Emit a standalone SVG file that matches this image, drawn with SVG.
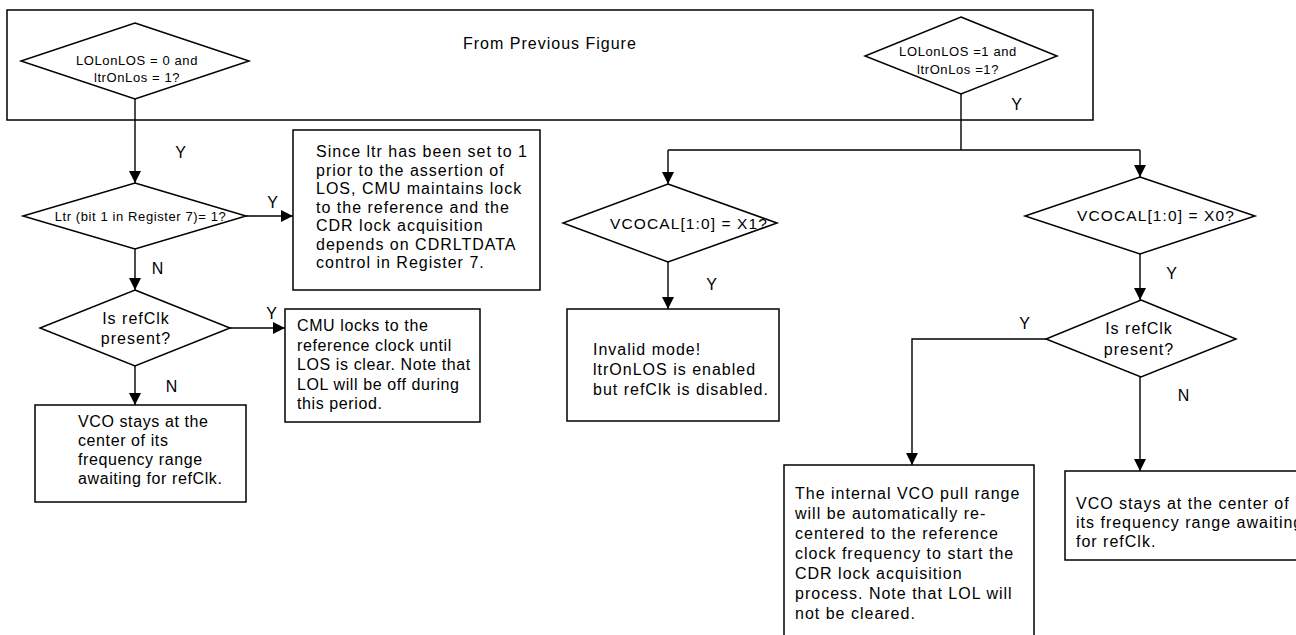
<svg xmlns="http://www.w3.org/2000/svg" width="1296" height="635" viewBox="0 0 1296 635">
<style>
.shape{fill:#fff;stroke:#000;stroke-width:1.5}
.conn{fill:none;stroke:#000;stroke-width:1.4}
.big{font-family:"Liberation Sans",Arial,sans-serif;font-size:16px;letter-spacing:1px;fill:#000}
.sm{font-family:"Liberation Sans",Arial,sans-serif;font-size:13px;letter-spacing:0.6px;fill:#000;text-anchor:middle}
.vc{font-family:"Liberation Sans",Arial,sans-serif;font-size:15.5px;letter-spacing:1.1px;fill:#000;text-anchor:middle}
.mid{text-anchor:middle}
.tight{letter-spacing:0.6px}
</style>
<defs>
<marker id="ah" viewBox="0 0 12 12" refX="12" refY="6" markerWidth="12" markerHeight="12" orient="auto" markerUnits="userSpaceOnUse"><path d="M0,0 L12,6 L0,12 z" fill="#000"/></marker>
</defs>
<rect width="1296" height="635" fill="#fff"/>
<g id="outer"><rect class="shape" x="7" y="10" width="1086" height="110"/>
<text class="big" x="463" y="49">From Previous Figure</text></g>
<g id="connectors">
<path class="conn" d="M135,99 V183" marker-end="url(#ah)"/>
<path class="conn" d="M246,216 H293" marker-end="url(#ah)"/>
<path class="conn" d="M135,249 V290" marker-end="url(#ah)"/>
<path class="conn" d="M230,328 H285" marker-end="url(#ah)"/>
<path class="conn" d="M135,366 V405" marker-end="url(#ah)"/>
<path class="conn" d="M961,94 V150 M668,150 H1140"/>
<path class="conn" d="M668,150 V184" marker-end="url(#ah)"/>
<path class="conn" d="M1140,150 V177" marker-end="url(#ah)"/>
<path class="conn" d="M668,262 V309" marker-end="url(#ah)"/>
<path class="conn" d="M1140,254 V300" marker-end="url(#ah)"/>
<path class="conn" d="M1046,339 H912 V465" marker-end="url(#ah)"/>
<path class="conn" d="M1140,377 V471" marker-end="url(#ah)"/>
<text class="big mid" x="181" y="158">Y</text>
<text class="big mid" x="273" y="208">Y</text>
<text class="big mid" x="158" y="274">N</text>
<text class="big mid" x="272" y="319">Y</text>
<text class="big mid" x="172" y="392">N</text>
<text class="big mid" x="1017" y="110">Y</text>
<text class="big mid" x="712" y="290">Y</text>
<text class="big mid" x="1172" y="279">Y</text>
<text class="big mid" x="1025" y="329">Y</text>
<text class="big mid" x="1184" y="401">N</text>
</g>
<g id="dA"><polygon class="shape" points="135,23 249,61 135,99 21,61"/>
<text class="sm" x="137" y="64.5">LOLonLOS = 0 and</text>
<text class="sm" x="137" y="81.5">ltrOnLos = 1?</text></g>
<g id="dG"><polygon class="shape" points="961,17 1057,56 961,94 865,56"/>
<text class="sm" x="958" y="56">LOLonLOS =1 and</text>
<text class="sm" x="958" y="74">ltrOnLos =1?</text></g>
<g id="dB"><polygon class="shape" points="135,183 246,216 135,249 23,216"/>
<text class="sm" x="140.5" y="220.5">Ltr (bit 1 in Register 7)= 1?</text></g>
<g id="bC"><rect class="shape" x="293" y="130" width="247" height="160"/>
<text class="big" x="316" y="157">Since ltr has been set to 1</text>
<text class="big" x="316" y="175.5">prior to the assertion of</text>
<text class="big" x="316" y="194">LOS, CMU maintains lock</text>
<text class="big" x="316" y="212.5">to the reference and the</text>
<text class="big" x="316" y="231">CDR lock acquisition</text>
<text class="big" x="316" y="249.5">depends on CDRLTDATA</text>
<text class="big" x="316" y="268">control in Register 7.</text></g>
<g id="dD"><polygon class="shape" points="135,290 230,328 135,366 40,328"/>
<text class="big mid" x="136" y="324">Is refClk</text>
<text class="big mid" x="136" y="344">present?</text></g>
<g id="bE"><rect class="shape" x="285" y="309" width="195" height="113"/>
<text class="big tight" x="297" y="331">CMU locks to the</text>
<text class="big tight" x="297" y="350.5">reference clock until</text>
<text class="big tight" x="297" y="370">LOS is clear. Note that</text>
<text class="big tight" x="297" y="389.5">LOL will be off during</text>
<text class="big tight" x="297" y="409">this period.</text></g>
<g id="bF"><rect class="shape" x="35" y="405" width="211" height="97"/>
<text class="big tight" x="78" y="427">VCO stays at the</text>
<text class="big tight" x="78" y="446">center of its</text>
<text class="big tight" x="78" y="465">frequency range</text>
<text class="big tight" x="78" y="484">awaiting for refClk.</text></g>
<g id="dH"><polygon class="shape" points="668,184 777,223 668,262 563,223"/>
<text class="vc" x="689" y="229">VCOCAL[1:0] = X1?</text></g>
<g id="bK"><rect class="shape" x="567" y="309" width="212" height="112"/>
<text class="big" x="593" y="355">Invalid mode!</text>
<text class="big" x="593" y="375">ltrOnLOS is enabled</text>
<text class="big" x="593" y="395">but refClk is disabled.</text></g>
<g id="dJ"><polygon class="shape" points="1140,177 1255,216 1140,254 1025,216"/>
<text class="vc" x="1156" y="221">VCOCAL[1:0] = X0?</text></g>
<g id="dL"><polygon class="shape" points="1141,300 1236,339 1141,377 1046,339"/>
<text class="big mid" x="1139" y="334">Is refClk</text>
<text class="big mid" x="1139" y="355">present?</text></g>
<g id="bM"><rect class="shape" x="784" y="465" width="250" height="185"/>
<text class="big" x="795" y="499">The internal VCO pull range</text>
<text class="big" x="795" y="519">will be automatically re-</text>
<text class="big" x="795" y="539">centered to the reference</text>
<text class="big" x="795" y="559">clock frequency to start the</text>
<text class="big" x="795" y="579">CDR lock acquisition</text>
<text class="big" x="795" y="599">process. Note that LOL will</text>
<text class="big" x="795" y="619">not be cleared.</text></g>
<g id="bN"><rect class="shape" x="1065" y="471" width="245" height="89"/>
<text class="big" x="1076" y="509">VCO stays at the center of</text>
<text class="big" x="1076" y="528">its frequency range awaiting</text>
<text class="big" x="1076" y="547">for refClk.</text></g>
</svg>
